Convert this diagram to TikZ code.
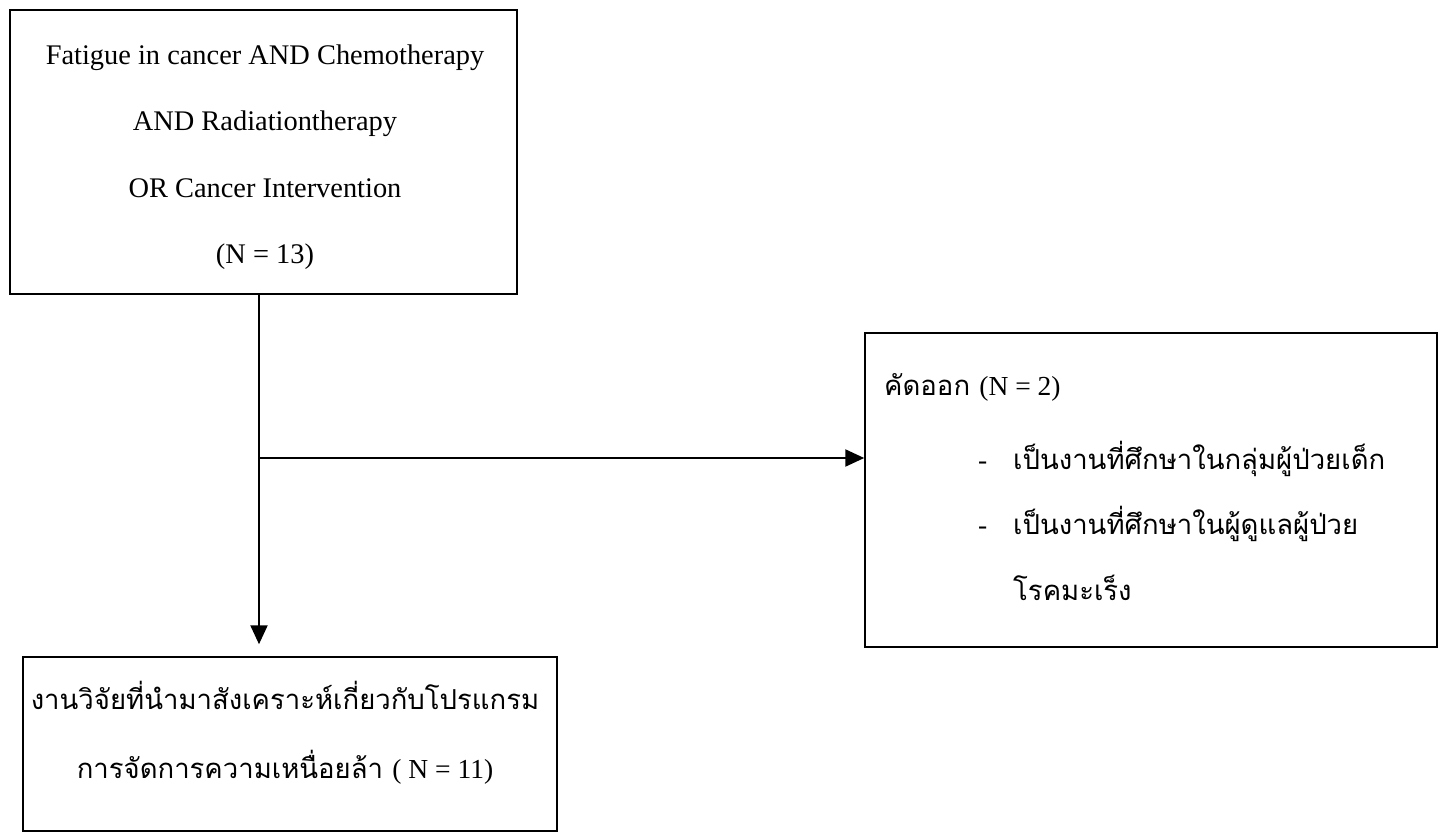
\documentclass[tikz,border=0pt]{standalone}
\usepackage{fontspec}
\setmainfont{Liberation Serif}
\newfontfamily\thai[Script=Thai]{Loma}
\usetikzlibrary{arrows.meta}
\begin{document}
\begin{tikzpicture}[x=1pt,y=-1pt,
  box/.style={draw,line width=1.5pt,rectangle,inner sep=0pt},
  conn/.style={line width=2.2pt,-{Triangle[length=19pt,width=17pt]}},
  lat/.style={font=\fontsize{28.4}{66.5}\selectfont,inner sep=0pt},
  th/.style={font=\fontsize{27.5}{66}\selectfont,inner sep=0pt,anchor=base west}]
\useasboundingbox (0,0) rectangle (1439,838);
\node[box,minimum width=507pt,minimum height=284pt] (top) at (263.5,152) {};
\node[box,minimum width=572pt,minimum height=314pt] (excl) at (1151,490) {};
\node[box,minimum width=534pt,minimum height=174pt] (res) at (290,744) {};
% top text
\node[lat,align=center] (toptext) at (265,157) {Fatigue in cancer AND Chemotherapy\\AND Radiationtherapy\\OR Cancer Intervention\\(N = 13)};
% exclusion text
\node[th] (ex0) at (884,395) {\thai คัดออก\ \fontspec{Liberation Serif}(N = 2)};
\node[th] (ex1d) at (978,469) {-};
\node[th] (ex1) at (1013,469) {\thai เป็นงานที่ศึกษาในกลุ่มผู้ป่วยเด็ก};
\node[th] (ex2d) at (978,534) {-};
\node[th] (ex2) at (1013,534) {\thai เป็นงานที่ศึกษาในผู้ดูแลผู้ป่วย};
\node[th] (ex3) at (1013,600) {\thai โรคมะเร็ง};
% result text
\node[th,anchor=base] (r1) at (285,709) {\thai งานวิจัยที่นำมาสังเคราะห์เกี่ยวกับโปรแกรม};
\node[th,anchor=base] (r2) at (285,778) {\thai การจัดการความเหนื่อยล้า\ \fontspec{Liberation Serif}( N = 11)};
% connectors
\coordinate (split) at (259,458);
\draw[line width=2.2pt] (top.south -| split) -- (split);
\draw[conn] (split) -- ([yshift=12pt]res.north -| split);
\draw[conn] (split) -- (excl.west |- split);
\end{tikzpicture}
\end{document}
